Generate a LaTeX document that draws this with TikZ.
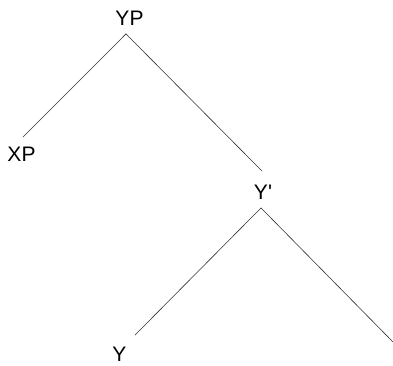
\documentclass[tikz,border=0pt]{standalone}
\usepackage{fontspec}
\setmainfont{Liberation Sans}
\usetikzlibrary{positioning}

\begin{document}
\begin{tikzpicture}[x=1pt,y=1pt,font=\fontsize{21}{25}\selectfont]
  % frame: 393 x 366 units
  \useasboundingbox (0,0) rectangle (393,366);
  \tikzset{cat/.style={inner sep=0pt,anchor=center},
           branch/.style={draw=black!80,line width=0.6pt}}
  % category labels
  \node[cat] (yp)  at (129.5,347.5) {YP};
  \node[cat] (xp)  at (21.5,211.5)  {XP};
  \node[cat] (ybar) at (263,174)    {Y\textquotesingle};
  \node[cat] (y)   at (119.5,11.5)  {Y};
  \coordinate (comp) at (393,24);
  % branches, all at 45 degrees
  \draw[branch] ([xshift=-3.5pt,yshift=-8pt]yp.south) -- ([xshift=1.5pt,yshift=10pt]xp.north);
  \draw[branch] ([xshift=-3.5pt,yshift=-8pt]yp.south) -- ([xshift=-1pt,yshift=13.5pt]ybar.north);
  \draw[branch] ([xshift=-2pt,yshift=-8.5pt]ybar.south) -- ([xshift=15.5pt,yshift=12pt]y.north);
  \draw[branch] ([xshift=-2pt,yshift=-8.5pt]ybar.south) -- (comp);
\end{tikzpicture}
\end{document}
